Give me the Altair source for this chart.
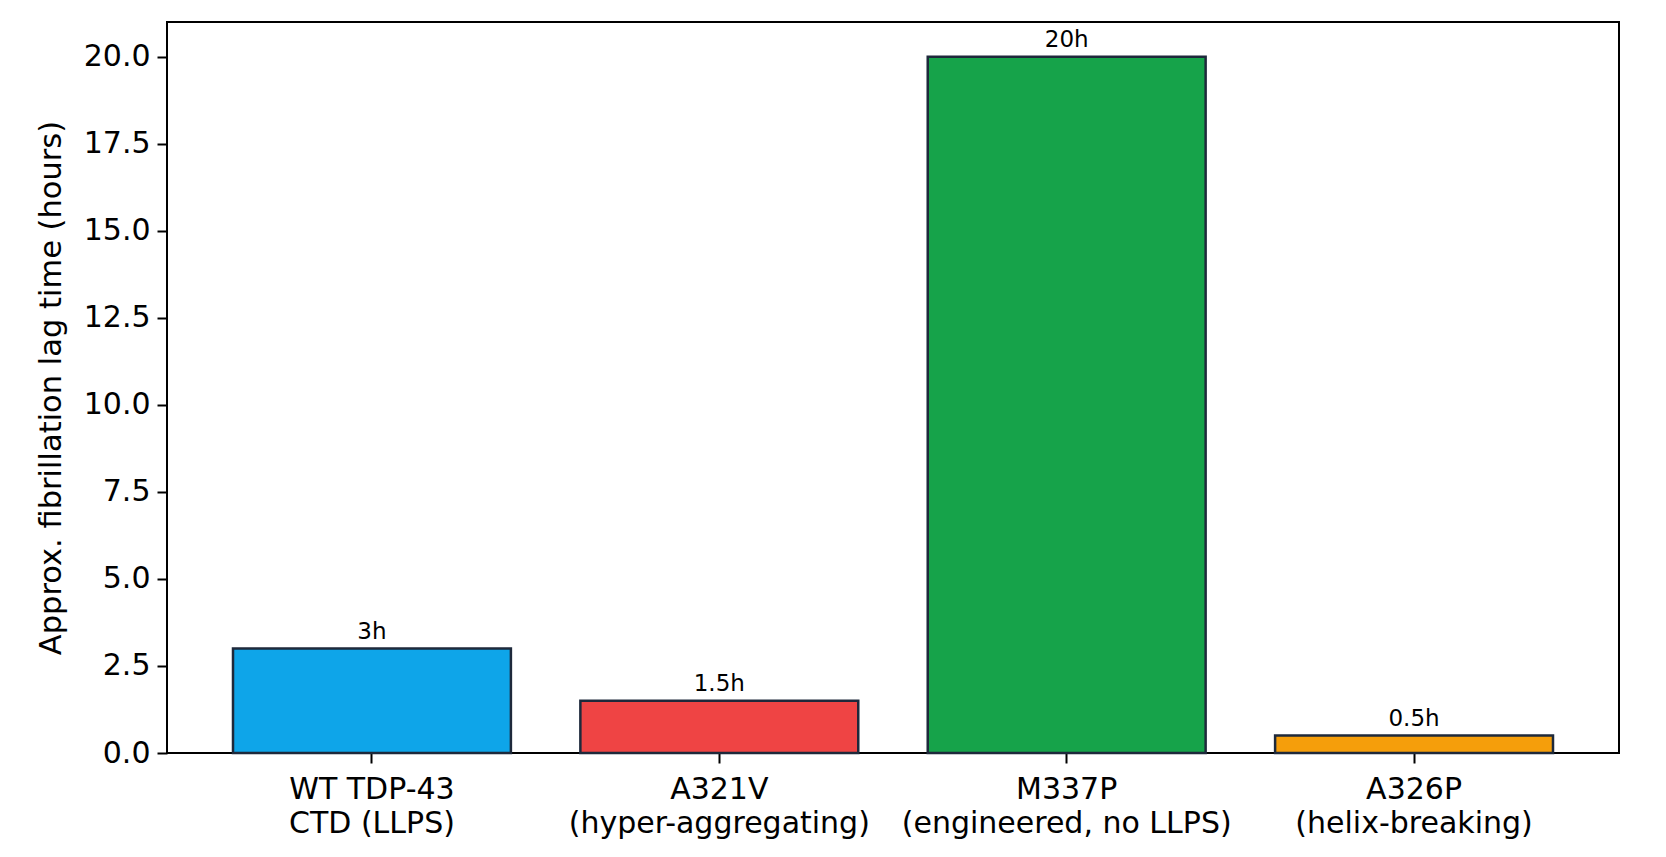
import altair as alt
import pandas as pd

categories = ["WT TDP-43\nCTD (LLPS)", "A321V\n(hyper-aggregating)",
              "M337P\n(engineered, no LLPS)", "A326P\n(helix-breaking)"]
lag_hours = [3.0, 1.5, 20.0, 0.5]
bar_labels = ["3h", "1.5h", "20h", "0.5h"]
colors = ["#0EA5E9", "#EF4444", "#16A34A", "#F59E0B"]

df = pd.DataFrame({"cat": categories, "lag": lag_hours, "lbl": bar_labels, "col": colors})

FONT = "DejaVu Sans"

x = alt.X("cat:N", sort=categories, title=None,
          scale=alt.Scale(paddingInner=0.2, paddingOuter=0.19),
          axis=alt.Axis(labelAngle=0, labelExpr="split(datum.label, '\\n')",
                        labelFontSize=30, labelLineHeight=34, labelColor="black",
                        labelPadding=11, labelLimit=600, tickSize=10, tickWidth=2,
                        tickColor="black", domain=False, labelFont=FONT,
                        labelBaseline="top"))
y = alt.Y("lag:Q", title="Approx. fibrillation lag time (hours)",
          scale=alt.Scale(domain=[0, 21], nice=False, zero=True),
          axis=alt.Axis(values=[0, 2.5, 5, 7.5, 10, 12.5, 15, 17.5, 20], format=".1f",
                        grid=False, labelFontSize=30, labelColor="black", labelPadding=7,
                        tickSize=10, tickWidth=2, tickColor="black", domain=False,
                        labelFont=FONT, titleFont=FONT, titleFontSize=30.5,
                        titleFontWeight="normal", titleColor="black", titlePadding=17))

bars = alt.Chart(df).mark_bar(stroke="#1E293B", strokeWidth=2.5).encode(
    x=x, y=y, color=alt.Color("col:N", scale=None))

text = alt.Chart(df).mark_text(baseline="bottom", dy=-5, fontSize=23, font=FONT,
                               color="black").encode(
    x=alt.X("cat:N", sort=categories), y="lag:Q", text="lbl:N")

chart = (bars + text).properties(
    width=1452, height=731,
    padding={"left": 159, "top": 14, "right": 20, "bottom": 90},
    autosize=alt.AutoSizeParams(type="none"),
    background="white",
).configure_view(stroke="black", strokeWidth=2)

chart.save("out.html", embed_options={"renderer": "svg", "actions": False})
